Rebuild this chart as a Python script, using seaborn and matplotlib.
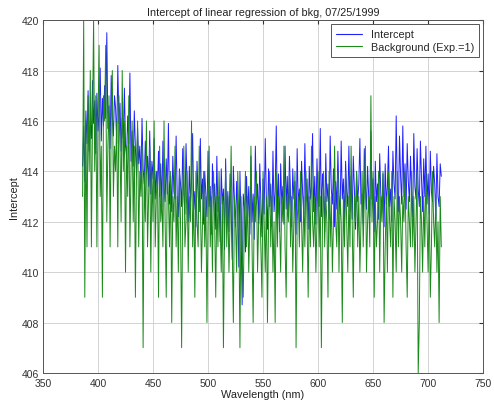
import numpy as np
import pandas as pd
import matplotlib
matplotlib.use("Agg")
import matplotlib.pyplot as plt
import seaborn as sns

wavelength_start = 386
intercept = [
    414.2, 415.8, 413.6, 416.4, 415.1, 417.2, 414.8, 416.0, 415.3, 417.6,
    415.9, 416.8, 414.7, 417.1, 415.6, 416.3, 418.1, 415.2, 416.9, 415.8,
    417.4, 416.1, 419.5, 415.7, 416.6, 414.9, 417.8, 416.2, 415.4, 417.0,
    416.5, 415.1, 418.2, 415.9, 416.7, 414.8, 416.1, 415.3, 417.3, 415.0,
    414.6, 416.2, 415.1, 417.9, 414.4, 415.6, 414.2, 416.4, 414.9, 413.8,
    415.7, 414.3, 415.0, 413.6, 416.1, 414.1, 413.5, 415.2, 413.9, 414.6,
    413.4, 415.6, 413.1, 414.4, 413.7, 415.3, 412.9, 414.0, 413.3, 414.8,
    413.0, 414.3, 412.6, 415.2, 413.4, 412.8, 414.5, 413.1, 415.9, 412.7,
    413.8, 412.4, 414.6, 413.2, 412.9, 415.4, 413.0, 412.2, 414.1, 413.5,
    412.6, 414.9, 413.1, 412.3, 415.1, 413.4, 412.0, 414.2, 412.8, 413.6,
    415.5, 412.5, 413.2, 411.8, 414.4, 413.0, 412.4, 415.3, 412.9, 413.7,
    411.9, 414.0, 413.1, 412.2, 414.8, 412.6, 413.4, 411.5, 414.3, 412.8,
    413.5, 411.7, 414.6, 412.4, 413.0, 411.2, 414.1, 412.7, 413.3, 410.9,
    414.5, 412.1, 413.2, 411.6, 413.9, 412.5, 410.5, 414.2, 412.8, 411.8,
    413.6, 412.3, 410.2, 414.0, 411.9, 408.7, 413.1, 412.6, 410.8, 413.8,
    412.2, 413.4, 411.5, 414.6, 412.0, 413.1, 411.3, 415.0, 412.7, 413.5,
    411.9, 414.3, 412.8, 411.4, 413.7, 412.3, 415.3, 412.9, 411.7, 414.1,
    412.6, 413.5, 411.8, 414.8, 412.4, 413.2, 415.8, 412.1, 413.9, 411.6,
    414.3, 412.7, 413.4, 411.9, 415.0, 412.5, 413.8, 412.2, 414.6, 413.0,
    411.8, 414.1, 412.9, 413.6, 411.5, 414.9, 412.6, 413.3, 412.0, 414.4,
    413.1, 412.3, 415.1, 412.8, 413.7, 411.7, 414.2, 412.9, 413.4, 415.5,
    412.4, 413.8, 411.9, 414.5, 413.0, 412.6, 415.7, 412.2, 413.9, 413.2,
    411.6, 414.7, 412.8, 413.5, 412.1, 415.4, 413.3, 412.7, 414.1, 411.8,
    413.6, 412.5, 414.8, 413.0, 412.3, 415.2, 412.9, 413.7, 411.9, 414.4,
    413.2, 412.6, 415.0, 412.4, 413.8, 412.1, 414.6, 413.3, 411.7, 414.0,
    412.8, 413.5, 415.3, 412.7, 413.1, 411.9, 414.9, 413.4, 412.5, 414.2,
    413.0, 412.2, 415.6, 412.9, 413.7, 411.6, 414.4, 412.8, 413.5, 412.1,
    414.7, 413.1, 412.4, 413.9, 411.8, 414.3, 412.7, 413.4, 415.0, 412.6,
    413.3, 412.0, 414.8, 413.5, 412.9, 416.2, 413.2, 412.4, 415.4, 413.8,
    412.7, 415.8, 413.0, 414.3, 412.5, 415.1, 413.6, 412.8, 414.6, 413.1,
    412.2, 415.5, 413.4, 412.9, 414.9, 413.3, 412.6, 415.2, 413.7, 412.4,
    414.5, 413.0, 415.0, 412.7, 413.9, 412.3, 414.8, 413.2, 412.8, 414.2,
    413.5, 412.1, 414.7, 413.0, 412.6, 414.3, 413.8,
]
background = [
    413, 420, 409, 416, 411, 417, 414, 418, 411, 416,
    420, 414, 417, 411, 416, 419, 413, 415, 409, 417,
    416, 419, 412, 415, 417, 411, 416, 418, 413, 415,
    414, 416, 411, 417, 415, 412, 418, 414, 416, 410,
    415, 413, 417, 411, 414, 416, 412, 415, 409, 414,
    416, 411, 414, 413, 415, 407, 414, 412, 416, 411,
    413, 415, 410, 414, 412, 416, 411, 413, 414, 409,
    415, 412, 413, 411, 416, 412, 409, 414, 413, 411,
    414, 408, 413, 412, 415, 411, 413, 410, 414, 412,
    407, 413, 415, 411, 412, 414, 410, 413, 412, 416,
    411, 413, 409, 414, 412, 411, 415, 413, 410, 412,
    414, 411, 413, 408, 412, 415, 411, 413, 410, 414,
    412, 409, 413, 411, 414, 412, 410, 413, 407, 412,
    414, 411, 413, 410, 412, 415, 411, 408, 413, 412,
    410, 414, 412, 407, 413, 411, 409, 412, 414, 411,
    413, 410, 412, 415, 411, 408, 413, 412, 414, 410,
    412, 413, 411, 409, 414, 412, 410, 413, 408, 412,
    414, 411, 413, 410, 412, 408, 414, 411, 413, 412,
    410, 413, 412, 415, 411, 409, 413, 412, 414, 411,
    413, 410, 412, 414, 407, 412, 413, 411, 414, 412,
    410, 413, 411, 414, 412, 409, 413, 411, 415, 412,
    411, 413, 410, 412, 414, 411, 413, 407, 412, 414,
    411, 413, 412, 409, 414, 411, 413, 410, 412, 415,
    412, 411, 414, 410, 413, 412, 408, 413, 411, 414,
    412, 410, 413, 411, 415, 412, 409, 413, 412, 414,
    411, 413, 410, 412, 414, 411, 413, 415, 410, 412,
    413, 411, 417, 412, 414, 409, 413, 411, 412, 414,
    410, 413, 412, 414, 408, 411, 413, 410, 414, 412,
    411, 414, 409, 413, 412, 410, 414, 411, 413, 412,
    410, 413, 412, 414, 411, 409, 413, 412, 411, 414,
    411, 413, 410, 412, 414, 406, 408, 413, 412, 410,
    413, 411, 414, 412, 410, 413, 409, 411, 414, 412,
    411, 413, 410, 412, 408, 413, 411,
]
x_ticks = [350, 400, 450, 500, 550, 600, 650, 700, 750]
y_ticks = [406, 408, 410, 412, 414, 416, 418, 420]
title = "Intercept of linear regression of bkg, 07/25/1999"
series_names = ["Intercept", "Background (Exp.=1)"]

wavelength = np.arange(wavelength_start, wavelength_start + len(intercept))
df = pd.DataFrame({
    "Wavelength": np.concatenate([wavelength, wavelength]),
    "Value": np.concatenate([intercept, background]),
    "Series": [series_names[0]] * len(intercept) + [series_names[1]] * len(background),
})

sns.set_style("white")
plt.rcParams["font.family"] = ["Liberation Sans", "DejaVu Sans"]

fig = plt.figure(figsize=(4.94, 4.06), dpi=100)
ax = fig.add_axes([0.087, 0.079, 0.891, 0.869])
sns.lineplot(data=df, x="Wavelength", y="Value", hue="Series",
             palette={series_names[0]: "#2020ff", series_names[1]: "#1a8a1a"},
             estimator=None, sort=False, linewidth=0.7, ax=ax)

ax.set_xlim(350, 750)
ax.set_ylim(406, 420)
ax.set_xticks(x_ticks)
ax.set_yticks(y_ticks)
ax.grid(True, color="#cccccc", linewidth=0.6)
ax.set_axisbelow(True)
ax.tick_params(direction="in", labelsize=7.5, length=3, top=True, right=True,
               colors="#333333")
ax.tick_params(axis="x", pad=3.5)
ax.tick_params(axis="y", pad=3)
for s in ax.spines.values():
    s.set_color("#555555")
    s.set_linewidth(0.7)
ax.set_title(title, fontsize=7.8, pad=4, color="#222222")
ax.set_xlabel("Wavelength (nm)", fontsize=7.8, labelpad=1, color="#222222")
ax.set_ylabel("Intercept", fontsize=7.8, labelpad=2, color="#222222")
leg = ax.legend(loc="upper right", fontsize=7.8, frameon=True, fancybox=False,
                edgecolor="#555555", framealpha=1, borderpad=0.45,
                handlelength=2.4, labelspacing=0.25, borderaxespad=0.4)
leg.get_frame().set_linewidth(0.7)
for line in leg.get_lines():
    line.set_linewidth(0.8)

fig.savefig("out.png", dpi=100)
